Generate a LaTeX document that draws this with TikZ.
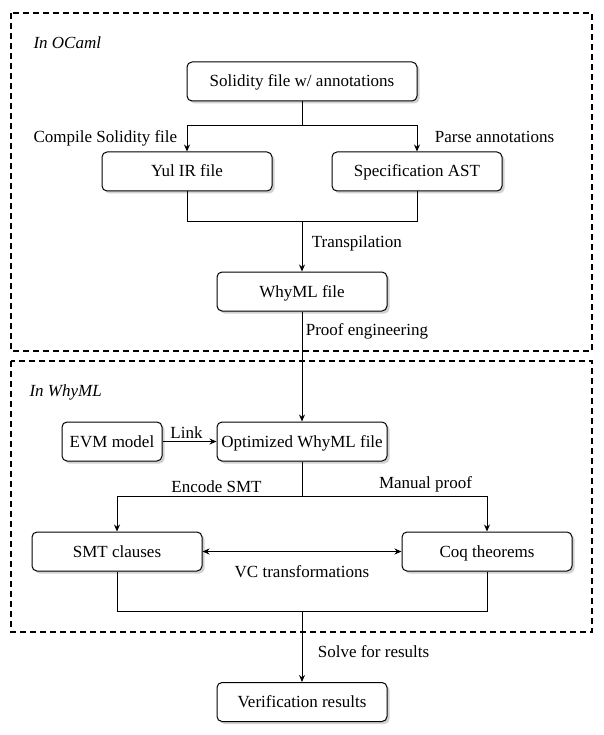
\documentclass[tikz,border=0pt]{standalone}
\usepackage{fontspec}
\setmainfont{Liberation Serif}
\usepackage{tikz}
\usetikzlibrary{calc}
\usetikzlibrary{shadows}
\usetikzlibrary{arrows.meta}

\begin{document}
\begin{tikzpicture}[
		x=1pt, y=-1pt,
		font=\fontsize{17}{20}\selectfont,
		node distance=120pt,
		>={Stealth[length=7pt,width=6pt]},
		filebox/.style={rectangle, rounded corners=5pt, draw, line width=1pt, fill=white,
			minimum width=170pt, minimum height=39pt, text height=13pt, text depth=2pt,
			drop shadow={shadow xshift=2.5pt, shadow yshift=-2.5pt, fill=black!30, opacity=0.6}},
		groupbox/.style={draw, line width=1.5pt, dash pattern=on 6pt off 4pt},
		flow/.style={line width=1pt}
		]
		
		\useasboundingbox (0,0) rectangle (604,735);
		
		% dashed groups
		\draw[groupbox] (11,13) rectangle (592,351);
		\draw[groupbox] (11,361) rectangle (592,632);
		\node[anchor=west, font=\fontsize{17}{20}\selectfont\itshape](ocaml) at (30,43){In OCaml};
		\node[anchor=west, font=\fontsize{17}{20}\selectfont\itshape](whyml) at (26,392){In WhyML};
		
		\node[filebox, minimum width=230pt](sol) at (302,81.5){Solidity file w/ annotations};
		\node[filebox, below of = sol, xshift = -115pt, yshift = 30pt](yul){Yul IR file};
		\node[filebox, below of = sol, xshift = 115pt, yshift = 30pt](spec){Specification AST};
		\node[filebox, below of = sol, yshift = -90pt](why){WhyML file};
		\node[filebox, below of = why, yshift = -30pt](opt){Optimized WhyML file};
		\node[filebox, minimum width=100pt, left of = opt, xshift = -70pt](evm){EVM model};
		\node[filebox, below of = opt, xshift = -185pt, yshift = 10pt](smt){SMT clauses};
		\node[filebox, below of = opt, xshift = 185pt, yshift = 10pt](coq){Coq theorems};
		\node[filebox, below of = opt, yshift = -140.5pt](ver){Verification results};
		
		\coordinate (split1) at (302,126);
		\coordinate (merge1) at (302,221);
		\coordinate (split2) at (302,496);
		\coordinate (merge2) at (302,611);
		
		\draw[flow] (sol) -- (split1);
		\draw[flow, ->] (split1) -| (yul) node [pos=0.75, left, xshift=-6pt]{Compile Solidity file};
		\draw[flow, ->] (split1) -| (spec) node [pos=0.72, right, xshift=14pt]{Parse annotations};
		\draw[flow] (yul) |- (merge1);
		\draw[flow] (spec) |- (merge1);
		\draw[flow, ->] (merge1) -- (why) node [midway, right, xshift=6pt, yshift=3pt]{Transpilation};
		\draw[flow, ->] (why) -- (opt) node [pos=0.18, right]{Proof engineering};
		\draw[flow, ->] (evm) -- (opt) node [midway, above, xshift=-3pt, yshift=-1pt]{Link};
		\draw[flow] (opt) -- (split2);
		\draw[flow, ->] (split2) -| (smt) node [pos=0.25, above, xshift=7pt]{Encode SMT};
		\draw[flow, ->] (split2) -| (coq) node [pos=0.25, above, xshift=31pt]{Manual proof};
		\draw[flow, <->] (smt) -- (coq) node [midway, below, yshift=-10pt]{VC transformations};
		\draw[flow] (smt) |- (merge2);
		\draw[flow] (coq) |- (merge2);
		\draw[flow, ->] (merge2) -- (ver) node [midway, right, xshift=12pt, yshift=-5pt]{Solve for results};
	\end{tikzpicture}
\end{document}
